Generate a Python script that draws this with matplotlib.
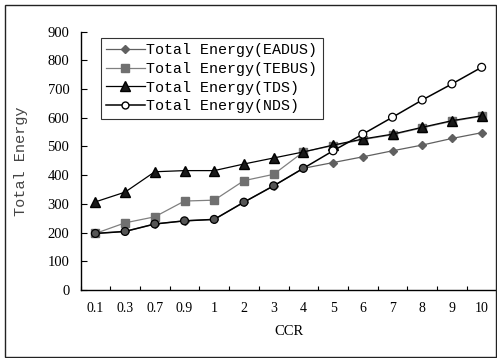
import matplotlib
matplotlib.use("Agg")
import matplotlib.pyplot as plt
from matplotlib.patches import Rectangle
import numpy as np

categories = ["0.1", "0.3", "0.7", "0.9", "1", "2", "3", "4", "5", "6", "7", "8", "9", "10"]
eadus = [197, 204, 230, 241, 246, 306, 363, 424, 444, 464, 485, 505, 528, 548]
tebus = [197, 234, 255, 310, 313, 381, 403, 481, 503, 524, 541, 565, 588, 605]
tds = [307, 341, 412, 416, 416, 439, 460, 481, 505, 526, 543, 567, 590, 607]
nds = [197, 204, 230, 241, 246, 306, 363, 424, 485, 543, 602, 662, 718, 776]
y_ticks = [0, 100, 200, 300, 400, 500, 600, 700, 800, 900]

mono = "Liberation Mono"
serif = "Liberation Serif"

fig = plt.figure(figsize=(4.97, 3.58), dpi=100)
fig.patches.append(Rectangle((5 / 497, 1 / 358), 491 / 497, 352 / 358, transform=fig.transFigure,
                             fill=False, edgecolor="#222222", linewidth=1.0))
ax = fig.add_axes([80.5 / 497, 1 - 290 / 358, 416 / 497, (290 - 31.7) / 358])

x = np.arange(len(categories))
ax.plot(x, eadus, color="#606060", marker="D", markersize=4.5, markerfacecolor="#606060",
        markeredgecolor="#606060", linewidth=0.9, label="Total Energy(EADUS)", zorder=3)
ax.plot(x, tebus, color="#808080", marker="s", markersize=5.5, markerfacecolor="#707070",
        markeredgecolor="#707070", linewidth=0.9, label="Total Energy(TEBUS)", zorder=2)
ax.plot(x, tds, color="black", marker="^", markersize=7, markerfacecolor="#1a1a1a",
        markeredgecolor="black", linewidth=0.9, label="Total Energy(TDS)", zorder=4)
ax.plot(x, nds, color="black", linewidth=1.1, zorder=5)
face = ["#555555" if a == b else "white" for a, b in zip(eadus, nds)]
ax.scatter(x, nds, s=32, c=face, edgecolors="black", linewidths=0.9, zorder=6)
ax.plot([], [], color="black", marker="o", markersize=5, markerfacecolor="white",
        markeredgecolor="black", linewidth=1.1, label="Total Energy(NDS)")

ax.set_xlim(-0.5, len(categories) - 0.5)
ax.set_ylim(0, 900)
ax.set_yticks(y_ticks)
ax.set_yticklabels([str(v) for v in y_ticks], fontfamily=serif, fontsize=10.5)
ax.set_xticks(x)
ax.set_xticklabels(categories, fontfamily=serif, fontsize=10)
ax.set_xticks(np.arange(len(categories) + 1) - 0.5, minor=True)
ax.tick_params(axis="x", which="major", length=0, pad=9)
ax.tick_params(axis="x", which="minor", direction="in", length=3, width=0.8)
ax.tick_params(axis="y", direction="in", length=4, width=0.8, pad=8)
for s in ["top", "right"]:
    ax.spines[s].set_visible(False)
for s in ["left", "bottom"]:
    ax.spines[s].set_linewidth(1.0)
    ax.spines[s].set_color("black")

ax.set_xlabel("CCR", fontfamily=serif, fontsize=10.5, labelpad=7)
ax.set_ylabel("Total Energy", fontfamily=mono, fontsize=11, labelpad=14, color="#444444")

leg = ax.legend(loc="upper left", bbox_to_anchor=(20 / 416, 1 - 6 / 258.3),
                prop={"family": mono, "size": 10.8}, frameon=True, fancybox=False,
                edgecolor="black", handlelength=2.6, handletextpad=0.1, labelspacing=0.32,
                borderpad=0.35, borderaxespad=0)
leg.get_frame().set_linewidth(0.8)

fig.savefig("out.png", dpi=100)
